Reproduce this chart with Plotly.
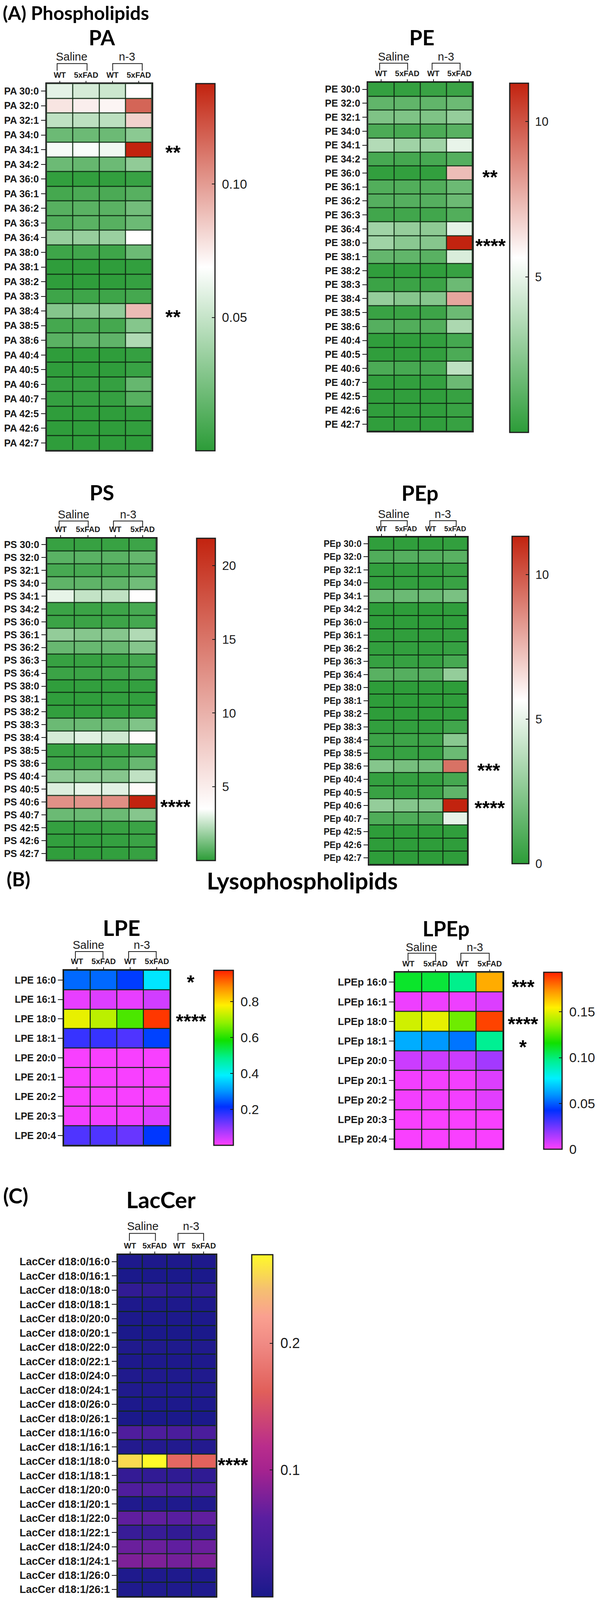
import plotly.graph_objects as go

W, H = 1535, 4683

COLUMNS = ["WT", "5xFAD", "WT", "5xFAD"]
PL_SPECIES = ["30:0","32:0","32:1","34:0","34:1","34:2","36:0","36:1","36:2","36:3","36:4","38:0","38:1","38:2","38:3","38:4","38:5","38:6","40:4","40:5","40:6","40:7","42:5","42:6","42:7"]
LYSO_SPECIES = ["16:0","16:1","18:0","18:1","20:0","20:1","20:2","20:3","20:4"]
LAC_SPECIES = ["d18:0/16:0","d18:0/16:1","d18:0/18:0","d18:0/18:1","d18:0/20:0","d18:0/20:1","d18:0/22:0","d18:0/22:1","d18:0/24:0","d18:0/24:1","d18:0/26:0","d18:0/26:1","d18:1/16:0","d18:1/16:1","d18:1/18:0","d18:1/18:1","d18:1/20:0","d18:1/20:1","d18:1/22:0","d18:1/22:1","d18:1/24:0","d18:1/24:1","d18:1/26:0","d18:1/26:1"]

PA = [[.060,.055,.052,.069],[.077,.074,.072,.117],[.048,.047,.047,.083],[.021,.021,.021,.031],[.066,.067,.064,.1376],
      [.021,.019,.021,.033],[.002,.002,.002,.004],[.008,.010,.010,.014],[.014,.015,.015,.023],[.012,.015,.014,.021],
      [.035,.035,.036,.069],[.006,.007,.006,.021],[.001,.001,.001,.002],[.001,.001,.001,.003],[.006,.006,.006,.008],
      [.029,.029,.033,.090],[.008,.009,.008,.029],[.015,.017,.017,.043],[.001,.001,.001,.003],[.001,.001,.001,.004],
      [.003,.003,.003,.019],[.003,.003,.003,.014],[.001,.001,.001,.002],[.001,.001,.001,.002],[.001,.001,.001,.001]]
PE = [[.22,.22,.34,.39],[1.4,1.4,1.4,1.7],[2.2,2.2,2.2,2.8],[.84,.73,.84,1.2],[3.6,3.1,3.1,5.0],
      [.73,.67,.73,1.1],[.17,.17,.17,7.3],[1.0,1.0,1.0,1.7],[1.1,1.1,1.1,1.7],[.56,.56,.56,1.0],
      [3.1,2.8,2.6,4.9],[3.1,2.5,2.4,11.24],[1.5,1.4,1.2,4.6],[.11,.11,.11,.28],[.39,.39,.39,1.7],
      [2.8,2.4,2.4,7.9],[.34,.34,.45,1.7],[1.1,1.0,1.0,3.4],[.11,.11,.17,.67],[.11,.11,.17,.84],
      [.84,.73,.73,3.9],[.17,.17,.22,1.7],[.11,.11,.11,.28],[.11,.11,.11,.34],[.11,.11,.11,.28]]
PS = [[.18,.18,.2,.28],[.77,.77,.77,.95],[.45,.45,.5,.7],[.84,.84,.84,1.15],[3.1,2.5,2.45,3.6],
      [.25,.25,.28,.45],[.25,.25,.28,.42],[1.7,1.5,1.5,2.2],[1.0,1.0,1.0,1.5],[.18,.18,.21,.42],
      [.25,.25,.28,.42],[.07,.1,.1,.14],[.07,.07,.1,.1],[.1,.1,.1,.18],[1.05,1.05,1.05,1.4],
      [2.8,3.0,2.7,3.8],[.18,.21,.25,.42],[.32,.35,.42,1.0],[1.6,1.5,1.5,2.45],[2.9,3.1,3.0,3.9],
      [12.7,12.4,12.9,21.87],[1.05,1.05,1.05,1.5],[.14,.14,.18,.25],[.1,.1,.14,.25],[.07,.07,.1,.18]]
PEp = [[.11,.11,.11,.17],[1.0,1.1,1.1,1.2],[.17,.17,.17,.34],[.17,.17,.17,.34],[1.7,1.7,1.7,2.1],
       [.06,.06,.06,.11],[.06,.06,.06,.08],[.11,.11,.11,.17],[.17,.17,.17,.28],[.28,.28,.28,.73],
       [1.2,1.1,1.1,2.8],[.06,.06,.06,.06],[.06,.06,.06,.11],[.06,.06,.06,.11],[.17,.17,.17,.56],
       [.45,.45,.45,2.5],[.28,.28,.28,1.7],[2.4,2.0,2.0,9.3],[.22,.22,.22,.67],[.34,.28,.34,1.4],
       [2.8,2.4,2.4,11.32],[.95,.95,1.0,5.0],[.06,.06,.06,.11],[.06,.06,.06,.08],[.06,.06,.06,.08]]
LPE = [[.263,.263,.225,.38],[.02,.03,.02,.04],[.76,.72,.63,.955],[.17,.17,.15,.23],[.006,.006,.006,.006],
       [.006,.006,.006,.006],[.006,.006,.006,.006],[.01,.01,.01,.03],[.15,.15,.13,.22]]
LPEp = [[.110,.108,.097,.168],[.003,.003,.003,.006],[.146,.150,.130,.187],[.064,.060,.054,.096],[.009,.009,.009,.016],
        [.002,.002,.002,.006],[.002,.002,.002,.005],[.001,.001,.001,.001],[.001,.001,.001,.001]]
LacCer = [[.004,.004,.004,.004],[.002,.002,.002,.002],[.020,.018,.012,.015],[.004,.004,.004,.004],[.003,.003,.003,.003],
          [.002,.002,.002,.002],[.006,.006,.005,.006],[.004,.004,.004,.004],[.006,.006,.005,.006],[.006,.006,.005,.006],
          [.003,.003,.003,.003],[.002,.002,.002,.002],[.050,.048,.045,.045],[.008,.008,.007,.008],[.255,.270,.170,.165],
          [.022,.020,.018,.018],[.050,.050,.045,.045],[.006,.006,.005,.006],[.065,.065,.060,.065],[.025,.025,.020,.025],
          [.070,.070,.065,.070],[.080,.080,.075,.080],[.005,.005,.005,.005],[.005,.005,.005,.005]]

GREEN, RED = "#2C9C38", "#C2230F"
def gwr(mid):
    return [[0, GREEN], [mid, "#FFFFFF"], [1, RED]]
RAINBOW = [[0,"#FF40FF"],[.10,"#9038FF"],[.22,"#0030FF"],[.31,"#0098FF"],[.40,"#00F0FF"],[.50,"#00F090"],[.60,"#10E000"],[.70,"#90F000"],[.80,"#FFF000"],[.90,"#FF9000"],[1,"#FF2000"]]
PLASMA = [[0,"#19198A"],[.10,"#3A1C98"],[.23,"#5A1EA0"],[.37,"#A5238F"],[.44,"#B92D8C"],[.60,"#E15F5A"],[.74,"#F08A84"],[.82,"#FAA090"],[.90,"#F5C070"],[1,"#FFFA28"]]

def px(x): return x / W
def py(y): return 1 - y / H

panels = [
 dict(name="PA", z=PA, labels=PL_SPECIES, heat=(120,391,245,1318), bar=(502,555,245,1320), rng=(0,.1376), cs=gwr(.5),
      ticks=[.05,.10], ticktext=["0.05","0.10"], title=(263,109), saline=(185,166), n3=(327,166), br1=(147,224), br2=(290,366), bry=(186,207),
      stars=[("**",445,441),("**",445,922)], lab=25, bfs=33, tfs=53),
 dict(name="PE", z=PE, labels=PL_SPECIES, heat=(947,1216,241,1262), bar=(1310,1362,243,1265), rng=(0,11.24), cs=gwr(.5),
      ticks=[5,10], ticktext=["5","10"], title=(1085,109), saline=(1013,166), n3=(1148,166), br1=(977,1049), br2=(1112,1184), bry=(185,205),
      stars=[("**",1261,513),("****",1262,714)], lab=25, bfs=31, tfs=54),
 dict(name="PS", z=PS, labels=PL_SPECIES, heat=(121,402,1575,2517), bar=(504,556,1575,2518), rng=(0,21.87), cs=gwr(.16),
      ticks=[5,10,15,20], ticktext=["5","10","15","20"], title=(262,1441), saline=(190,1506), n3=(330,1506), br1=(152,227), br2=(292,367), bry=(1525,1544),
      stars=[("****",452,2356)], lab=25, bfs=32, tfs=54),
 dict(name="PEp", z=PEp, labels=PL_SPECIES, heat=(950,1203,1572,2530), bar=(1316,1363,1570,2528), rng=(0,11.32), cs=gwr(.5),
      ticks=[0,5,10], ticktext=["0","5","10"], title=(1081,1442), saline=(1013,1505), n3=(1140,1505), br1=(980,1048), br2=(1106,1174), bry=(1524,1543),
      stars=[("***",1258,2250),("****",1260,2360)], lab=23, bfs=31, tfs=54),
 dict(name="LPE", z=LPE, labels=LYSO_SPECIES, heat=(164,438,2840,3352), bar=(548,602,2840,3352), rng=(0,.975), cs=RAINBOW,
      ticks=[.2,.4,.6,.8], ticktext=["0.2","0.4","0.6","0.8"], title=(313,2715), saline=(228,2766), n3=(365,2766), br1=(194,265), br2=(331,402), bry=(2785,2806),
      stars=[("*",491,2869),("****",492,2984)], lab=25, bfs=34, tfs=56),
 dict(name="LPEp", z=LPEp, labels=LYSO_SPECIES, heat=(1016,1295,2846,3363), bar=(1397,1448,2846,3364), rng=(0,.193), cs=RAINBOW,
      ticks=[0,.05,.10,.15], ticktext=["0","0.05","0.10","0.15"], title=(1148,2717), saline=(1085,2772), n3=(1222,2772), br1=(1050,1121), br2=(1186,1259), bry=(2790,2812),
      stars=[("***",1346,2883),("****",1346,2992),("*",1346,3059)], lab=26, bfs=34, tfs=53),
 dict(name="LacCer", z=LacCer, labels=LAC_SPECIES, heat=(303,556,3672,4673), bar=(646,704,3672,4674), rng=(0,.27), cs=PLASMA,
      ticks=[.1,.2], ticktext=["0.1","0.2"], title=(414,3510), saline=(368,3589), n3=(492,3589), br1=(333,400), br2=(458,524), bry=(3610,3632),
      stars=[("****",600,4283)], lab=27, bfs=36, tfs=58),
]

fig = go.Figure()
layout = dict(autosize=True, margin=dict(l=0, r=0, t=0, b=0, pad=0), paper_bgcolor="white",
              plot_bgcolor="#0E2A12", showlegend=False)
ann, shp = [], []
LINE = "#1A1A1A"

def text(s, x, y, size, bold=False, family="Liberation Sans", color="#1A1A1A", xanchor="center"):
    ann.append(dict(text=f"<b>{s}</b>" if bold else s, x=px(x), y=py(y), xref="paper", yref="paper", xanchor=xanchor, yanchor="middle",
                    showarrow=False, font=dict(size=size, family=family, color=color)))

for i, p in enumerate(panels, 1):
    x0, x1, y0, y1 = p["heat"]
    bx0, bx1, by0, by1 = p["bar"]
    zmin, zmax = p["rng"]
    ylabels = [f"{p['name']} {s}" for s in p["labels"]]
    fig.add_trace(go.Heatmap(
        z=p["z"], x=list(range(4)), y=ylabels, xaxis=f"x{i}", yaxis=f"y{i}", zmin=zmin, zmax=zmax, colorscale=p["cs"],
        xgap=2.5, ygap=2.5, hoverinfo="skip",
        colorbar=dict(x=px(bx0), xanchor="left", y=py(by0), yanchor="top", len=(by1-by0)/H, lenmode="fraction", thickness=bx1-bx0-4, thicknessmode="pixels",
                      xpad=2, ypad=0, outlinecolor=LINE, outlinewidth=3, tickmode="array", tickvals=p["ticks"],
                      ticktext=["\u00a0" + t for t in p["ticktext"]],
                      ticks="inside", ticklen=9, tickwidth=2, tickcolor=LINE, tickfont=dict(size=p["bfs"], family="Liberation Sans", color="#1A1A1A"))))
    layout[f"xaxis{i}"] = dict(domain=[px(x0), px(x1)], anchor=f"y{i}", side="top", range=[-.5, 3.5], tickmode="array", tickvals=[0,1,2,3],
                               ticktext=[f"<b>{c}</b>" for c in COLUMNS], ticks="outside", ticklen=5, tickwidth=1.5, tickcolor=LINE,
                               tickfont=dict(size=20 if p["name"] != "PEp" else 18, family="Liberation Sans", color="#1A1A1A"),
                               showline=True, mirror=True, linecolor=LINE, linewidth=2.5, showgrid=False, zeroline=False, fixedrange=True)
    n = len(ylabels)
    layout[f"yaxis{i}"] = dict(domain=[py(y1), py(y0)], anchor=f"x{i}", type="category", range=[n-.5, -.5], tickmode="array", tickvals=ylabels,
                               ticktext=[f"<b>{t}</b>" for t in ylabels], ticks="outside", ticklen=12, tickwidth=2, tickcolor=LINE,
                               tickfont=dict(size=p["lab"], family="Liberation Sans", color="#1A1A1A"),
                               showline=True, mirror=True, linecolor=LINE, linewidth=2.5, showgrid=False, zeroline=False, fixedrange=True)
    text(p["name"], *p["title"], p["tfs"], bold=True, family="Lato", color="#000000")
    text("Saline", *p["saline"], 29)
    text("n-3", *p["n3"], 29)
    t, b = p["bry"]
    for a, c in (p["br1"], p["br2"]):
        shp.append(dict(type="path", xref="paper", yref="paper", line=dict(color=LINE, width=2),
                        path=f"M {px(a)} {py(b)} L {px(a)} {py(t)} L {px(c)} {py(t)} L {px(c)} {py(b)}"))
    for v in p["ticks"]:
        if v == zmin: continue
        yy = by1 + (by0 - by1) * (v - zmin) / (zmax - zmin)
        shp.append(dict(type="line", xref="paper", yref="paper", x0=px(bx0+2), x1=px(bx0+11), y0=py(yy), y1=py(yy), line=dict(color=LINE, width=2)))
    for s, sx, sy in p["stars"]:
        text(s, sx, sy + 6, 50, bold=True, color="#000000")

text("(A) Phospholipids", 5, 37, 48.5, bold=True, family="Lato", color="#000000", xanchor="left")
text("(B)", 15, 2572, 50, bold=True, family="Lato", color="#000000", xanchor="left")
text("Lysophospholipids", 778, 2577, 60, bold=True, family="Lato", color="#000000")
text("(C)", 6, 3499, 54, bold=True, family="Lato", color="#000000", xanchor="left")

fig.update_layout(**layout, annotations=ann, shapes=shp)
# The figure fills the browser window, so all of it stays inside the photograph.
fig.write_html("out.html", config=dict(displayModeBar=False, responsive=True), default_width="100%", default_height="100vh",
               post_script="document.body.style.margin='0';document.body.style.overflow='hidden';Plotly.Plots.resize(document.getElementById('{plot_id}'));")
